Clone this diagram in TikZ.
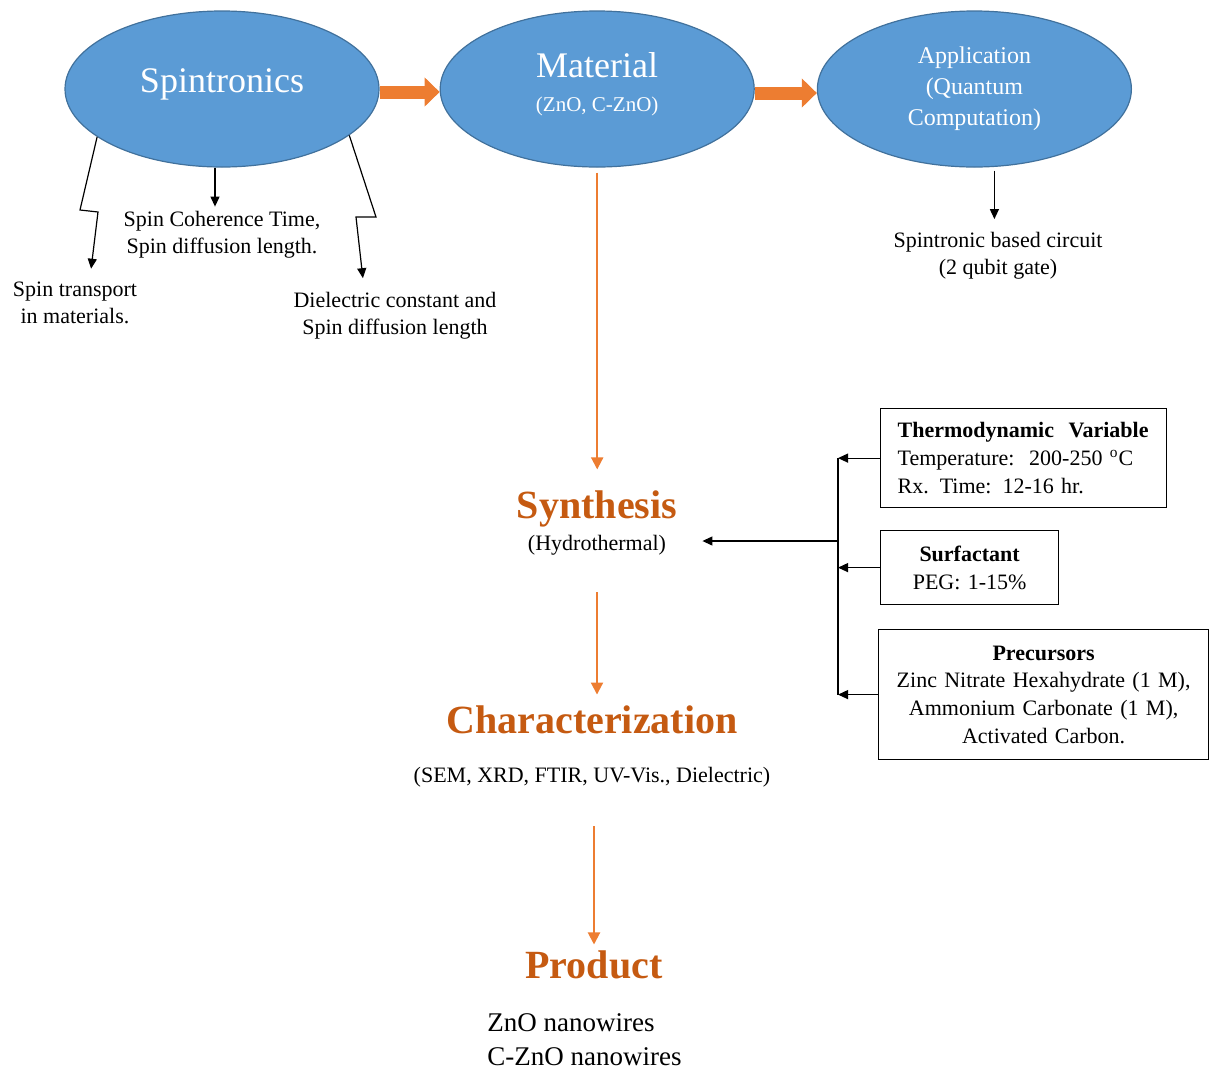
\documentclass[tikz,border=0pt]{standalone}
\usepackage{fontspec}
\setmainfont{LiberationSerif}[Extension=.ttf, UprightFont=*-Regular, BoldFont=*-Bold,
	ItalicFont=*-Italic, BoldItalicFont=*-BoldItalic]
\usetikzlibrary{arrows.meta}
\usetikzlibrary{positioning,shapes}

\definecolor{ellblue}{HTML}{5B9BD5}
\definecolor{ellline}{HTML}{41719C}
\definecolor{arrorange}{HTML}{ED7D31}
\definecolor{txtorange}{HTML}{C55A11}

\tikzset{
	bubble/.style={ellipse, draw=ellline, fill=ellblue, line width=0.6pt, text=white,
		minimum width=157pt, minimum height=78pt, inner sep=0pt, align=center},
	bigarrow/.style={draw=arrorange, line width=6.5pt,
		-{Triangle[length=7.5pt,width=14.5pt,line width=0.5pt]}},
	flow/.style={draw=arrorange, line width=1pt, -{Triangle[length=6pt,width=6pt]}},
	link/.style={line width=0.6pt, -{Triangle[length=5pt,width=4.5pt]}},
	note/.style={align=center, inner sep=2pt, font=\fontsize{11}{13.5}\selectfont},
	stage/.style={text=txtorange, inner sep=2pt, font=\fontsize{20}{24}\selectfont\bfseries},
	infobox/.style={draw, line width=0.6pt, anchor=north west, font=\fontsize{11}{13.8}\selectfont}
}

\begin{document}
\begin{tikzpicture}[x=0.5pt, y=-0.5pt]
\useasboundingbox (0,0) rectangle (1209,1072);

\node [bubble, font=\fontsize{18}{21}\selectfont] (spin) at (222,89) {\raisebox{8pt}{Spintronics}};
\node [bubble, right=30pt of spin,
	label={[text=white, align=center, yshift=2.5pt, font=\fontsize{18}{20}\selectfont]center:
	Material\\[-3pt]{\fontsize{10.5}{12}\selectfont (ZnO, C-ZnO)}}] (mat) {};
\node [bubble, right=31pt of mat, font=\fontsize{12}{15.5}\selectfont] (app)
	{Application\\(Quantum\\Computation)};

\draw [bigarrow] ([yshift=-1.5pt]spin.east) -- ([yshift=-1.5pt]mat.west);
\draw [bigarrow] ([yshift=-2pt]mat.east) -- ([yshift=-2pt]app.west);

\node [note] (trans) at (75,303) {Spin transport\\in materials.};
\node [note] (coh) at (222,234.5) {Spin Coherence Time,\\Spin diffusion length.};
\node [note] (diel) at (395,316) {Dielectric constant and\\Spin diffusion length};
\node [note] (circ) at (998,256) {Spintronic based circuit\\(2 qubit gate)};

\draw [link, shorten >=4.5pt] (spin.201) -- (80,210) -- (98,212) -- ([xshift=7.5pt]trans.north);
\draw [link] ([xshift=-3.5pt]spin.south) -- ([xshift=-3.5pt]spin.south |- coh.north);
\draw [link, shorten >=5pt] (spin.340) -- (376,217) -- (356,217) -- ([xshift=-15.5pt]diel.north);
\draw [link, shorten <=1.5pt, shorten >=4.5pt] ([xshift=10pt]app.south) -- ([xshift=10pt]app.south |- circ.north);

\node [stage] (synth) at (597,509) {Synthesis};
\node [note] (hydro) at (597,545) {(Hydrothermal)};
\node [stage] (char) at (592,720) {Characterization};
\node [note] (charlist) at (592,777) {(SEM, XRD, FTIR, UV-Vis., Dielectric)};
\node [stage] (prod) at (594,965) {Product};
\node [anchor=west, align=left, inner sep=0pt, font=\fontsize{13.5}{17}\selectfont] (wires) at (487,1040)
	{ZnO nanowires\\C-ZnO nanowires};

\draw [flow, shorten <=2.5pt, shorten >=8.5pt] (mat.south) -- (mat.south |- synth.north);
\draw [flow, shorten <=16.5pt, shorten >=3.5pt] (hydro.south) -- (hydro.south |- char.north);
\draw [flow, shorten <=17.5pt, shorten >=1pt] (prod.north |- charlist.south) -- (prod.north);

%boxes on the right
\node [infobox, minimum width=143pt, minimum height=49.5pt, text width=126pt, inner xsep=8.5pt, align=left]
	(thermo) at (880,408)
	{\textbf{Thermodynamic\ \ Variable}\\Temperature:\ \ 200-250 \textsuperscript{o}C\\Rx. Time: 12-16 hr.};
\node [infobox, minimum width=89pt, minimum height=37pt, text width=80pt, inner xsep=4.5pt, align=center]
	(surf) at (880,530) {\textbf{Surfactant}\\PEG: 1-15\%};
\node [infobox, minimum width=165pt, minimum height=65pt, text width=155pt, inner xsep=5pt, align=center]
	(prec) at (878,629)
	{\textbf{Precursors}\\Zinc\ Nitrate\ Hexahydrate\ (1 M),\\Ammonium\ Carbonate\ (1 M),\\Activated\ Carbon.};

\coordinate (bus) at (838,0);
\coordinate (hydroin) at ([yshift=2pt]hydro.east);
\draw [line width=0.6pt] (thermo.west -| bus) -- (prec.west -| bus);
\draw [link] (thermo.west) -- (thermo.west -| bus);
\draw [link] (surf.west) -- (surf.west -| bus);
\draw [link] (prec.west) -- (prec.west -| bus);
\draw [link, shorten >=16pt] (hydroin -| bus) -- (hydroin);

\end{tikzpicture}
\end{document}
